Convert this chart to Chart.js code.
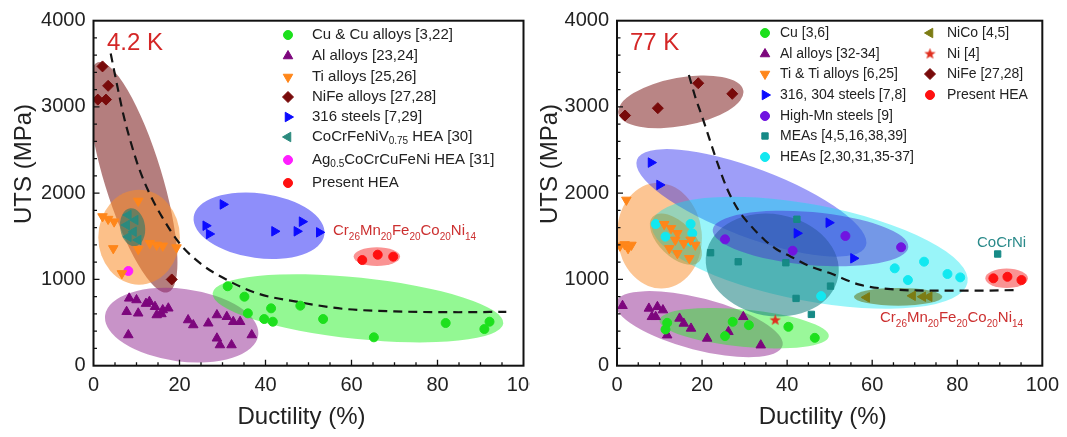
<!DOCTYPE html>
<html>
<head>
<meta charset="utf-8">
<script src="https://cdn.jsdelivr.net/npm/chart.js@4.4.1/dist/chart.umd.min.js"></script>
<style>
  body { margin: 0; background: #fff; }
  #wrap { position: relative; width: 1067px; height: 437px; overflow: hidden; }
  #lbox { position: absolute; left: 0; top: 0; width: 530px; height: 437px; overflow: hidden; }
  #rbox { position: absolute; left: 530px; top: 0; width: 537px; height: 437px; }
</style>
</head>
<body>
<div id="wrap">
  <div id="lbox"><canvas id="c4" width="550" height="437"></canvas></div>
  <div id="rbox"><canvas id="c77" width="537" height="437"></canvas></div>
</div>
<script>
const FONT = '"Liberation Sans", Arial, Helvetica, sans-serif';

// x ticks (ductility %) and y ticks (UTS, MPa)
const ductTicks = [0, 20, 40, 60, 80, 100];
const utsTicks = [0, 1000, 2000, 3000, 4000];

// ---------- 4.2 K ----------
const cu4X = [31.2, 35.1, 35.9, 39.7, 41.3, 41.7, 48.1, 53.4, 65.2, 81.9, 90.9, 92.1];
const cu4Y = [921, 800, 607, 541, 665, 510, 696, 541, 329, 495, 425, 510];
const al4X = [8.1, 8.3, 10, 7.7, 10.4, 12.2, 13, 14.3, 15.8, 16.1, 17.4, 14.7, 22, 23.2, 26.7, 28.7, 31, 32.5, 34.1, 28.7, 29.4, 32.1, 36.8];
const al4Y = [356, 781, 762, 626, 608, 720, 742, 684, 600, 646, 666, 588, 530, 472, 492, 588, 568, 510, 510, 318, 240, 240, 356];
const ti4X = [2.1, 3.4, 4.8, 10.4, 4.6, 10.4, 13.1, 14.7, 16.1, 19.3, 6.6];
const ti4Y = [1730, 1700, 1670, 1910, 1360, 1350, 1420, 1400, 1390, 1370, 1070];
const nife4X = [2.1, 3.4, 1, 2.9, 18.2];
const nife4Y = [3470, 3245, 3085, 3085, 1000];
const st4X = [30.1, 26.1, 26.9, 42.1, 47.3, 48.5, 52.5];
const st4Y = [1870, 1623, 1527, 1558, 1558, 1670, 1546];
const v4X = [8.1, 9.7, 7.7, 9.3, 8.1, 10.4];
const v4Y = [1747, 1689, 1631, 1553, 1495, 1457];
const ag4X = [8.1];
const ag4Y = [1098];
const pre4X = [62.5, 66.1, 69.7];
const pre4Y = [1225, 1287, 1264];
const trend4X = [4, 5.5, 7, 8.5, 10.5, 13, 16, 20, 25, 31, 38, 48, 58, 70, 85, 96];
const trend4Y = [3620, 3250, 2900, 2620, 2300, 2000, 1720, 1420, 1180, 995, 840, 735, 660, 630, 620, 625];

// shaded zones: centre x, centre y, end of long axis x, y, short/long ratio
const nifeZone4 = [9.15, 2184, 1, 3517, 0.24];
const tiZone4 = [10.6, 1490, 10.6, 2040, 0.86];
const vZone4 = [9.1, 1605, 8.5, 1825, 0.65];
const alZone4 = [20.5, 470, 38.3, 354, 0.47];
const cuZone4 = [61.5, 665, 95.3, 490, 0.21];
const stZone4 = [38.5, 1623, 53.7, 1520, 0.49];
const preZone4 = [65.9, 1265, 71.3, 1265, 0.4];

// ---------- 77 K ----------
const cu77X = [11.8, 11.4, 25.4, 27.2, 31, 40.3, 46.5];
const cu77Y = [497, 420, 343, 509, 470, 451, 323];
const al77X = [1.3, 7.5, 8.2, 9.1, 9.5, 10.8, 11.8, 14.7, 15.7, 17.4, 21.2, 26.2, 29.7, 33.8];
const al77Y = [695, 664, 567, 567, 683, 645, 354, 548, 490, 432, 316, 393, 567, 238];
const ti77X = [2.2, 0.7, 1.8, 2.6, 3.4, 11.1, 12.7, 14.2, 13.7, 15.7, 17.3, 18.4, 14.2, 17, 12.3];
const ti77Y = [1922, 1390, 1406, 1361, 1400, 1640, 1593, 1535, 1458, 1419, 1458, 1400, 1303, 1245, 1361];
const st77X = [8, 10, 42.3, 49.8, 55.6];
const st77Y = [2355, 2096, 1535, 1658, 1245];
const mn77X = [25.4, 41.3, 53.7, 66.8];
const mn77Y = [1465, 1333, 1504, 1373];
const mea77X = [22, 28.5, 39.7, 42.3, 50.2, 42.1, 45.7, 89.5];
const mea77Y = [1310, 1205, 1194, 1698, 923, 780, 595, 1295];
const hea77X = [9.1, 11.4, 17.3, 17.7, 17.3, 48, 65.3, 68.4, 72.2, 77.7, 80.7];
const hea77Y = [1643, 1496, 1643, 1535, 1438, 807, 1129, 993, 1206, 1063, 1024];
const nico77X = [58.7, 69.5, 71.9, 73.4];
const nico77Y = [792, 810, 800, 800];
const ni77X = [37.2];
const ni77Y = [528];
const nife77X = [1.9, 9.6, 19.1, 27.1];
const nife77Y = [2901, 2986, 3275, 3152];
const pre77X = [88.5, 91.8, 95.1];
const pre77Y = [1013, 1031, 993];
const trend77X = [16.9, 18.5, 20, 22, 23.9, 26, 28.5, 31.5, 34.7, 37.5, 40.9, 45, 50.2, 57, 65, 75, 85, 93.5];
const trend77Y = [3370, 3100, 2890, 2590, 2310, 2040, 1806, 1620, 1458, 1350, 1264, 1160, 1071, 940, 885, 870, 870, 877];

const nifeZone77 = [15, 3059, 29.7, 3190, 0.38];
const tiZone77 = [10, 1507, 8.8, 2117, 0.8];
const tiCoreZone77 = [13.85, 1467, 19.3, 1206, 0.53];
const alZone77 = [19.3, 482, 38.9, 231, 0.3];
const cuZone77 = [29.9, 435, 49.8, 342, 0.22];
const heaZone77 = [45.3, 1310, 82.4, 963, 0.3];
const stZone77 = [31.6, 1888, 58.5, 1387, 0.28];
const meaZone77 = [36.5, 1167, 52, 1030, 0.76];
const mnZone77 = [45.5, 1475, 68.5, 1375, 0.27];
const nicoZone77 = [66.1, 799, 76.5, 799, 0.2];
const preZone77 = [91.6, 1013, 96.6, 1013, 0.46];

// ---------- helpers ----------
function richText(ctx, parts, x, y, size) {
  let cx = x;
  for (const p of parts) {
    const sub = p[1];
    ctx.font = (sub ? Math.round(size * 0.66) : size) + 'px ' + FONT;
    ctx.fillText(p[0], cx, y + (sub ? size * 0.3 : 0));
    cx += ctx.measureText(p[0]).width;
  }
}

// filled five-point star (the built-in 'star' is only stroked)
function starSprite(color) {
  const c = document.createElement('canvas');
  c.width = c.height = 13;
  const g = c.getContext('2d');
  g.fillStyle = color;
  g.beginPath();
  for (let i = 0; i < 10; i++) {
    const r = i % 2 ? 2.5 : 6;
    const ang = -Math.PI / 2 + i * Math.PI / 5;
    g.lineTo(6.5 + r * Math.cos(ang), 6.5 + r * Math.sin(ang));
  }
  g.closePath();
  g.fill();
  return c;
}

function drawZone(chart, z, color) {
  const xs = chart.scales.x, ys = chart.scales.y, ctx = chart.ctx;
  const cx = xs.getPixelForValue(z[0]), cy = ys.getPixelForValue(z[1]);
  const ex = xs.getPixelForValue(z[2]), ey = ys.getPixelForValue(z[3]);
  const a = Math.hypot(ex - cx, ey - cy);
  ctx.beginPath();
  ctx.ellipse(cx, cy, a, a * z[4], Math.atan2(ey - cy, ex - cx), 0, Math.PI * 2);
  ctx.fillStyle = color;
  ctx.fill();
}

function marker(ctx, s, x, y) {
  ctx.fillStyle = s.color;
  ctx.strokeStyle = s.color;
  ctx.lineWidth = 1;
  Chart.helpers.drawPoint(ctx, { pointStyle: s.shape, rotation: s.rot, radius: s.size, borderWidth: 1 }, x, y);
}

function buildChart(id, series, trendX, trendY, zones, deco) {
  const datasets = series.map(s => ({
    label: s.name.map(p => p[0]).join(''),
    data: s.x.map((v, i) => ({ x: v, y: s.y[i] })),
    pointStyle: s.shape,
    rotation: s.rot,
    radius: s.size,
    backgroundColor: s.color,
    borderColor: s.color,
    borderWidth: 1
  }));
  datasets.push({
    label: 'trend',
    data: trendX.map((v, i) => ({ x: v, y: trendY[i] })),
    showLine: true,
    pointRadius: 0,
    borderColor: '#151515',
    borderWidth: 2.2,
    borderDash: [9, 6],
    cubicInterpolationMode: 'monotone'
  });

  const decor = {
    id: 'decor',
    beforeDatasetsDraw(chart) {
      const ctx = chart.ctx, a = chart.chartArea;
      ctx.save();
      ctx.beginPath();
      ctx.rect(a.left, a.top, a.right - a.left, a.bottom - a.top);
      ctx.clip();
      zones.forEach(z => drawZone(chart, z[0], z[1]));
      ctx.restore();
    },
    afterDatasetsDraw(chart) {
      const ctx = chart.ctx, a = chart.chartArea;
      const xs = chart.scales.x, ys = chart.scales.y;
      ctx.save();
      // inward ticks
      ctx.strokeStyle = '#111';
      ctx.lineWidth = 1.3;
      ctx.beginPath();
      for (let v = 5; v < 100; v += 5) {
        const px = xs.getPixelForValue(v);
        ctx.moveTo(px, a.bottom);
        ctx.lineTo(px, a.bottom - (v % 20 === 0 ? 6 : 3.5));
      }
      for (let v = 200; v < 4000; v += 200) {
        const py = ys.getPixelForValue(v);
        ctx.moveTo(a.left, py);
        ctx.lineTo(a.left + (v % 1000 === 0 ? 6 : 3.5), py);
      }
      ctx.stroke();
      // frame
      ctx.lineWidth = 2;
      ctx.strokeRect(a.left, a.top, a.right - a.left, a.bottom - a.top);

      // legend
      ctx.textBaseline = 'middle';
      ctx.textAlign = 'left';
      deco.legend.forEach(col => {
        col.rows.forEach((idx, r) => {
          const s = series[idx];
          marker(ctx, s, col.mx, col.ys[r]);
          ctx.fillStyle = '#222';
          richText(ctx, s.name, col.tx, col.ys[r], deco.legendSize);
        });
      });

      // notes
      ctx.textBaseline = 'alphabetic';
      deco.notes.forEach(n => {
        ctx.fillStyle = n.color;
        richText(ctx, n.parts, n.x, n.y, n.size);
      });

      // axis titles
      ctx.fillStyle = '#222';
      ctx.font = '24px ' + FONT;
      ctx.textAlign = 'center';
      ctx.textBaseline = 'middle';
      ctx.fillText('Ductility (%)', (a.left + a.right) / 2 - 7, 417);
      ctx.translate(deco.yTitleX, 164);
      ctx.rotate(-Math.PI / 2);
      ctx.fillText('UTS (MPa)', 0, 0);
      ctx.restore();
    }
  };

  return new Chart(document.getElementById(id), {
    type: 'scatter',
    data: { datasets },
    plugins: [decor],
    options: {
      responsive: false,
      animation: false,
      events: [],
      layout: { padding: { top: 20.7, right: deco.padRight, bottom: 0, left: 0 } },
      plugins: { legend: { display: false }, tooltip: { enabled: false } },
      scales: {
        x: {
          type: 'linear', min: 0, max: 100,
          grid: { display: false, drawTicks: false },
          border: { display: false },
          afterBuildTicks: s => { s.ticks = ductTicks.map(v => ({ value: v })); },
          ticks: { color: '#222', padding: 8, font: { size: 20, family: FONT }, callback: v => String(v) },
          afterFit: s => { s.height = 71.3; }
        },
        y: {
          type: 'linear', min: 0, max: 4000,
          grid: { display: false, drawTicks: false },
          border: { display: false },
          afterBuildTicks: s => { s.ticks = utsTicks.map(v => ({ value: v })); },
          ticks: { color: '#222', padding: 8, font: { size: 20, family: FONT }, callback: v => String(v) },
          afterFit: s => { s.width = deco.axisLeft; }
        }
      }
    }
  });
}

const crLabel = [['Cr', 0], ['26', 1], ['Mn', 0], ['20', 1], ['Fe', 0], ['20', 1], ['Co', 0], ['20', 1], ['Ni', 0], ['14', 1]];

// ---------- 4.2 K panel ----------
const series4 = [
  { name: [['Cu & Cu alloys [3,22]', 0]], x: cu4X, y: cu4Y, shape: 'circle', rot: 0, size: 4.5, color: '#1de01d' },
  { name: [['Al alloys [23,24]', 0]], x: al4X, y: al4Y, shape: 'triangle', rot: 0, size: 5.5, color: '#7d067d' },
  { name: [['Ti alloys [25,26]', 0]], x: ti4X, y: ti4Y, shape: 'triangle', rot: 180, size: 5.5, color: '#ff861a' },
  { name: [['NiFe alloys [27,28]', 0]], x: nife4X, y: nife4Y, shape: 'rectRot', rot: 0, size: 5.5, color: '#780a0a' },
  { name: [['316 steels [7,29]', 0]], x: st4X, y: st4Y, shape: 'triangle', rot: 90, size: 5.5, color: '#0a0aff' },
  { name: [['CoCrFeNiV', 0], ['0.75', 1], [' HEA [30]', 0]], x: v4X, y: v4Y, shape: 'triangle', rot: 270, size: 5.5, color: '#2b8a7e' },
  { name: [['Ag', 0], ['0.5', 1], ['CoCrCuFeNi HEA [31]', 0]], x: ag4X, y: ag4Y, shape: 'circle', rot: 0, size: 4.5, color: '#ff1eff' },
  { name: [['Present HEA', 0]], x: pre4X, y: pre4Y, shape: 'circle', rot: 0, size: 4.5, color: '#ff1010' }
];

buildChart('c4', series4, trend4X, trend4Y, [
  [nifeZone4, 'rgba(130,40,40,0.6)'],
  [tiZone4, 'rgba(250,140,40,0.55)'],
  [vZone4, 'rgba(40,120,105,0.6)'],
  [alZone4, 'rgba(145,40,145,0.5)'],
  [cuZone4, 'rgba(30,240,30,0.48)'],
  [stZone4, 'rgba(30,30,245,0.5)'],
  [preZone4, 'rgba(245,40,40,0.5)']
], {
  axisLeft: 93.5,
  padRight: 26.5,
  yTitleX: 24,
  legendSize: 15,
  legend: [{ mx: 288, tx: 312, rows: [0, 1, 2, 3, 4, 5, 6, 7], ys: [35, 56, 77, 97, 117, 137, 160, 183] }],
  notes: [
    { parts: [['4.2 K', 0]], x: 107, y: 50, size: 24, color: '#d42626' },
    { parts: crLabel, x: 333, y: 235, size: 15, color: '#cc3030' }
  ]
});

// ---------- 77 K panel ----------
const series77 = [
  { name: [['Cu [3,6]', 0]], x: cu77X, y: cu77Y, shape: 'circle', rot: 0, size: 4.5, color: '#1de01d' },
  { name: [['Al alloys [32-34]', 0]], x: al77X, y: al77Y, shape: 'triangle', rot: 0, size: 5.5, color: '#7d067d' },
  { name: [['Ti & Ti alloys [6,25]', 0]], x: ti77X, y: ti77Y, shape: 'triangle', rot: 180, size: 5.5, color: '#ff861a' },
  { name: [['316, 304 steels [7,8]', 0]], x: st77X, y: st77Y, shape: 'triangle', rot: 90, size: 5.5, color: '#0a0aff' },
  { name: [['High-Mn steels [9]', 0]], x: mn77X, y: mn77Y, shape: 'circle', rot: 0, size: 4.5, color: '#7014e0' },
  { name: [['MEAs [4,5,16,38,39]', 0]], x: mea77X, y: mea77Y, shape: 'rect', rot: 0, size: 4.5, color: '#168a86' },
  { name: [['HEAs [2,30,31,35-37]', 0]], x: hea77X, y: hea77Y, shape: 'circle', rot: 0, size: 4.5, color: '#12e8f0' },
  { name: [['NiCo [4,5]', 0]], x: nico77X, y: nico77Y, shape: 'triangle', rot: 270, size: 5.5, color: '#7c7c14' },
  { name: [['Ni [4]', 0]], x: ni77X, y: ni77Y, shape: starSprite('#e03020'), rot: 0, size: 5, color: '#e03020' },
  { name: [['NiFe [27,28]', 0]], x: nife77X, y: nife77Y, shape: 'rectRot', rot: 0, size: 5.5, color: '#780a0a' },
  { name: [['Present HEA', 0]], x: pre77X, y: pre77Y, shape: 'circle', rot: 0, size: 4.5, color: '#ff1010' }
];

buildChart('c77', series77, trend77X, trend77Y, [
  [nifeZone77, 'rgba(135,45,45,0.58)'],
  [tiZone77, 'rgba(250,140,40,0.5)'],
  [alZone77, 'rgba(145,40,145,0.5)'],
  [cuZone77, 'rgba(30,240,30,0.45)'],
  [stZone77, 'rgba(40,40,240,0.45)'],
  [heaZone77, 'rgba(0,230,240,0.4)'],
  [meaZone77, 'rgba(20,125,125,0.55)'],
  [mnZone77, 'rgba(70,40,210,0.45)'],
  [tiCoreZone77, 'rgba(150,150,60,0.45)'],
  [nicoZone77, 'rgba(100,125,40,0.6)'],
  [preZone77, 'rgba(245,40,40,0.5)']
], {
  axisLeft: 87,
  padRight: 19,
  yTitleX: 20,
  legendSize: 14,
  legend: [
    { mx: 235, tx: 250, rows: [0, 1, 2, 3, 4, 5, 6], ys: [33, 54, 74, 95, 116, 136, 157] },
    { mx: 400, tx: 417, rows: [7, 8, 9, 10], ys: [33, 54, 74, 95] }
  ],
  notes: [
    { parts: [['77 K', 0]], x: 100, y: 50, size: 24, color: '#d42626' },
    { parts: [['CoCrNi', 0]], x: 447, y: 247, size: 15, color: '#2a8a8a' },
    { parts: crLabel, x: 350, y: 322, size: 15, color: '#cc3030' }
  ]
});
</script>
</body>
</html>
